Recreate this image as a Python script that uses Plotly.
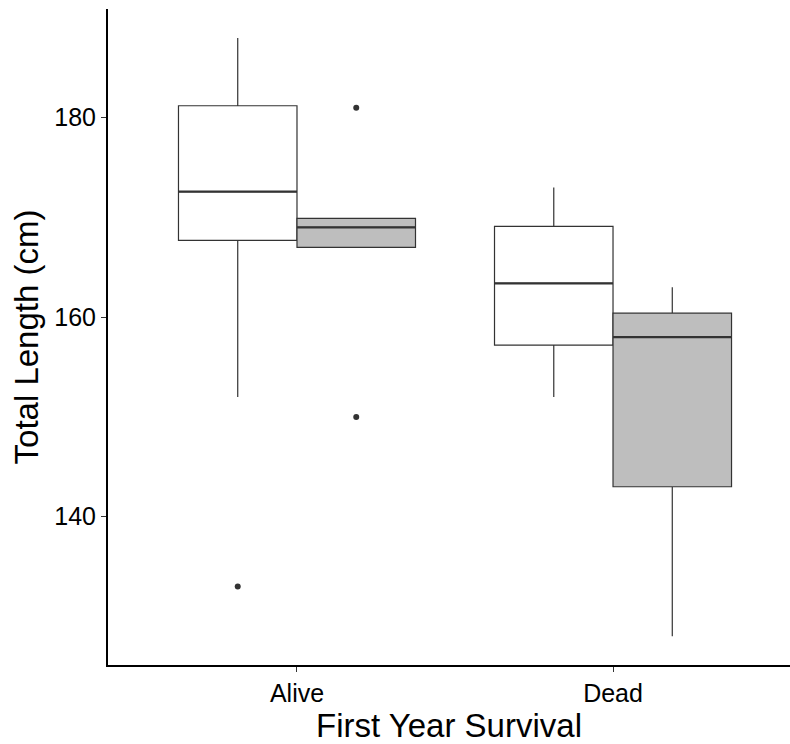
import plotly.graph_objects as go

# Survival categories and their positions on the x axis
categories = ["Alive", "Dead"]
positions = [0, 1]

# Box summary statistics (cm) for the two groups per survival category
white_lower = [152.0, 152.0]
white_q1 = [167.7, 157.2]
white_median = [172.6, 163.4]
white_q3 = [181.2, 169.1]
white_upper = [188.0, 173.0]
white_outliers = {"Alive": [133.0], "Dead": []}

grey_lower = [167.0, 128.0]
grey_q1 = [167.0, 143.0]
grey_median = [169.0, 158.0]
grey_q3 = [169.9, 160.4]
grey_upper = [169.9, 163.0]
grey_outliers = {"Alive": [181.0, 150.0], "Dead": []}

y_ticks = [140, 160, 180]

DODGE = 0.75          # total width taken by the pair of boxes
BOX_W = DODGE / 2      # width of one box
LINE_C = "#333333"
FONT = "Liberation Sans, Arial, sans-serif"

fig = go.Figure()

groups = [
    ("white", "#FFFFFF", white_lower, white_q1, white_median, white_q3, white_upper, white_outliers, -1),
    ("grey", "#BEBEBE", grey_lower, grey_q1, grey_median, grey_q3, grey_upper, grey_outliers, 1),
]

for name, fill, lo, q1, med, q3, up, outl, side in groups:
    fig.add_trace(go.Box(
        x=positions, q1=q1, median=med, q3=q3,
        lowerfence=lo, upperfence=up,
        name=name, offsetgroup=name,
        fillcolor=fill, line=dict(color=LINE_C, width=1.2),
        whiskerwidth=0, boxpoints=False, hoverinfo="skip",
        showlegend=False,
    ))

for name, fill, lo, q1, med, q3, up, outl, side in groups:
    # thicker median segment across each box
    mx, my = [], []
    for p, m in zip(positions, med):
        if side < 0:
            mx += [p - BOX_W, p, None]
        else:
            mx += [p, p + BOX_W, None]
        my += [m, m, None]
    fig.add_trace(go.Scatter(
        x=mx, y=my, mode="lines",
        line=dict(color=LINE_C, width=2.2),
        hoverinfo="skip", showlegend=False,
    ))
    # outlying observations
    ox, oy = [], []
    for cat, p in zip(categories, positions):
        for v in outl[cat]:
            ox.append(p + side * BOX_W / 2)
            oy.append(v)
    if ox:
        fig.add_trace(go.Scatter(
            x=ox, y=oy, mode="markers",
            marker=dict(color=LINE_C, size=6),
            hoverinfo="skip", showlegend=False,
        ))

fig.update_layout(
    width=790, height=744,
    margin=dict(l=108, r=0, t=9, b=79),
    paper_bgcolor="white", plot_bgcolor="white",
    boxmode="group", boxgap=0.25, boxgroupgap=0,
    font=dict(family=FONT, color="black"),
)

fig.update_xaxes(
    range=[-0.598, 1.560],
    tickmode="array", tickvals=positions, ticktext=categories,
    showgrid=False, zeroline=False,
    showline=True, linecolor="black", linewidth=2,
    ticks="outside", ticklen=5, tickwidth=1, tickcolor=LINE_C,
    tickfont=dict(size=25, color="black"),
    title=dict(text="First Year Survival", font=dict(size=33, color="black"), standoff=14),
)

fig.update_yaxes(
    range=[125.13, 190.9],
    tickmode="array", tickvals=y_ticks,
    showgrid=False, zeroline=False,
    showline=True, linecolor="black", linewidth=2,
    ticks="outside", ticklen=5, tickwidth=1, tickcolor=LINE_C,
    tickfont=dict(size=25, color="black"),
    title=dict(text="Total Length (cm)", font=dict(size=33, color="black"), standoff=6),
)

fig.write_html("out.html")
